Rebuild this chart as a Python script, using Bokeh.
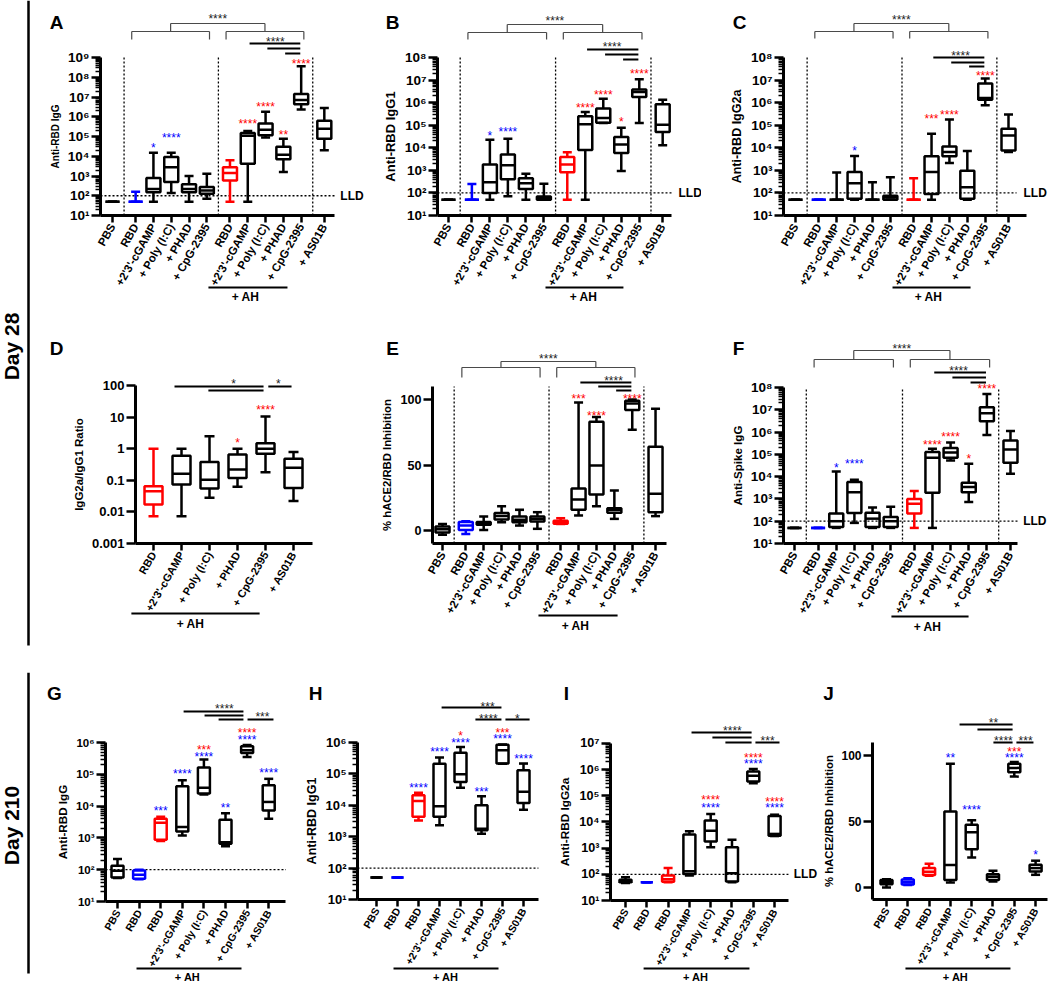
import math
from bokeh.plotting import figure
from bokeh.models import Range1d, FixedTicker, ColumnDataSource
from bokeh.layouts import row, column
from bokeh.core.properties import value
from bokeh.embed import file_html
from bokeh.resources import INLINE

FONT = "Liberation Sans"
CMAP = {"k": "#000000", "r": "#ff0000", "b": "#0000ff"}
SUP = str.maketrans("0123456789-", "⁰¹²³⁴⁵⁶⁷⁸⁹⁻")

# ---------------- categories ----------------
cats_d28 = ["PBS", "RBD", "+2'3'-cGAMP", "+ Poly (I:C)", "+ PHAD", "+ CpG-2395",
            "RBD", "+2'3'-cGAMP", "+ Poly (I:C)", "+ PHAD", "+ CpG-2395", "+ AS01B"]
colors_d28 = ["k", "b", "k", "k", "k", "k", "r", "k", "k", "k", "k", "k"]
cats_ratio = ["RBD", "+2'3'-cGAMP", "+ Poly (I:C)", "+ PHAD", "+ CpG-2395", "+ AS01B"]
colors_ratio = ["r", "k", "k", "k", "k", "k"]
cats_d210 = ["PBS", "RBD", "RBD", "+2'3'-cGAMP", "+ Poly (I:C)", "+ PHAD", "+ CpG-2395", "+ AS01B"]
colors_d210 = ["k", "b", "r", "k", "k", "k", "k", "k"]

# ---------------- data (min, Q1, median, Q3, max) ----------------
A_min = [50, 50, 50, 136, 50, 70, 50, 50, 90000, 1600, 2.3e6, 20000]
A_q1 = [50, 50, 150, 490, 150, 125, 600, 4200, 115000, 7000, 4.3e6, 78000]
A_med = [50, 50, 220, 2800, 220, 185, 1400, 110000, 220000, 12000, 7e6, 250000]
A_q3 = [50, 50, 800, 9100, 380, 280, 2800, 150000, 450000, 30000, 1.4e7, 620000]
A_max = [50, 160, 15000, 15000, 1000, 1300, 6200, 190000, 1.8e6, 78000, 3.6e8, 2.8e6]

B_min = [50, 50, 50, 72, 50, 50, 50, 50, 125000, 930, 126000, 13000]
B_q1 = [50, 50, 100, 400, 150, 50, 830, 8000, 130000, 5900, 1.8e6, 50000]
B_med = [50, 50, 300, 1700, 270, 58, 1800, 110000, 210000, 14000, 3e6, 105000]
B_q3 = [50, 50, 1800, 5000, 450, 70, 3900, 250000, 550000, 30000, 3.8e6, 850000]
B_max = [50, 250, 23000, 25000, 710, 256, 6400, 390000, 1.5e6, 78000, 1.1e7, 1.35e6]

C_min = [50, 50, 50, 50, 50, 50, 50, 50, 2100, 50, 760000, 6500]
C_q1 = [50, 50, 50, 55, 50, 50, 50, 90, 4200, 55, 1.35e6, 7600]
C_med = [50, 50, 50, 270, 50, 62, 50, 850, 6500, 180, 1.6e6, 35000]
C_q3 = [50, 50, 50, 850, 50, 75, 50, 4200, 11500, 950, 7e6, 70000]
C_max = [50, 50, 800, 4300, 300, 500, 450, 42000, 177000, 7200, 1.17e7, 300000]

D_min = [0.0073, 0.0073, 0.028, 0.062, 0.18, 0.022]
D_q1 = [0.017, 0.073, 0.055, 0.118, 0.69, 0.057]
D_med = [0.045, 0.16, 0.105, 0.22, 1.0, 0.25]
D_q3 = [0.065, 0.6, 0.38, 0.65, 1.5, 0.48]
D_max = [1.0, 1.0, 2.5, 1.0, 10.5, 0.78]

E_min = [-3.3, -2.6, 0.5, 6.4, 3.8, 1.3, 5.0, 11.5, 18.6, 8.9, 77, 11]
E_q1 = [-1.5, 0.5, 4.5, 8.4, 6.4, 6.9, 5.2, 15.8, 27.6, 13.5, 92, 14]
E_med = [1.0, 3.8, 5.5, 11, 8.2, 8.9, 6.2, 23.7, 49.7, 15.8, 97, 28]
E_q3 = [3.0, 6.5, 6.5, 13.3, 10.7, 10.7, 7.5, 32, 83, 17, 99, 64]
E_max = [5.0, 7.0, 10.7, 18.6, 15.8, 14, 9.4, 97.7, 86.7, 30.6, 100, 93]

F_min = [50, 50, 50, 84, 50, 50, 50, 50, 53000, 730, 740000, 13500]
F_q1 = [50, 50, 55, 235, 55, 55, 220, 1900, 70000, 2000, 3e6, 42000]
F_med = [50, 50, 100, 2000, 130, 100, 600, 70000, 120000, 3400, 7e6, 165000]
F_q3 = [50, 50, 220, 5700, 240, 155, 1000, 126000, 190000, 5300, 1.3e7, 420000]
F_max = [50, 50, 17000, 7200, 410, 440, 2250, 177000, 340000, 38000, 5e7, 1.1e6]

G_min = [55, 50, 800, 1180, 23000, 550, 350000, 4000]
G_q1 = [57, 52, 870, 1600, 25000, 650, 470000, 7300]
G_med = [93, 70, 3000, 2200, 38000, 730, 570000, 13500]
G_q3 = [133, 95, 4000, 42000, 165000, 3700, 760000, 45000]
G_max = [218, 100, 4600, 65000, 290000, 6000, 830000, 72000]

H_min = [50, 50, 3300, 2300, 36000, 1250, 210000, 7200]
H_q1 = [50, 50, 4300, 4300, 55000, 1600, 215000, 11800]
H_med = [50, 50, 13700, 9300, 97000, 1800, 570000, 27000]
H_q3 = [50, 50, 21000, 210000, 470000, 10000, 850000, 130000]
H_max = [50, 50, 25000, 330000, 720000, 19500, 870000, 213000]

I_min = [47, 50, 50, 90, 1080, 50, 300000, 2900]
I_q1 = [50, 50, 52, 104, 1800, 53, 350000, 3000]
I_med = [56, 50, 65, 130, 4600, 110, 580000, 3500]
I_q3 = [62, 50, 90, 3300, 11500, 1080, 850000, 17000]
I_max = [77, 50, 175, 4400, 20000, 2100, 1.05e6, 19000]

J_min = [0, 1.8, 8.9, 3.8, 22.8, 4.6, 84, 9.6]
J_q1 = [2.5, 2.2, 9.5, 5.6, 29, 5.6, 87.3, 12.2]
J_med = [4.3, 4, 12, 17, 41.8, 8.1, 90.6, 14.7]
J_q3 = [5.6, 6, 14.7, 57.5, 47.6, 10, 93.7, 17.2]
J_max = [6.3, 7, 18, 93.7, 51, 12.7, 95, 20.3]

# ---------------- significance stars above groups ----------------
A_star_group = [2, 3, 7, 8, 9, 10]
A_star_y = [3.9e4, 1.26e5, 5.75e5, 4.2e6, 1.78e5, 6.3e8]
A_star_text = ["*", "****", "****", "****", "**", "****"]
A_star_color = ["b", "b", "r", "r", "r", "r"]

B_star_group = [2, 3, 7, 8, 9, 10]
B_star_y = [4.5e4, 7.1e4, 7.6e5, 2.95e6, 1.82e5, 2.45e7]
B_star_text = ["*", "****", "****", "****", "*", "****"]
B_star_color = ["b", "b", "r", "r", "r", "r"]

C_star_group = [3, 7, 8, 10]
C_star_y = [1.0e4, 2.45e5, 3.9e5, 2.1e7]
C_star_text = ["*", "***", "****", "****"]
C_star_color = ["b", "r", "r", "r"]

D_star_group = [3, 4]
D_star_y = [1.92, 21]
D_star_text = ["*", "****"]
D_star_color = ["r", "r"]

E_star_group = [7, 8, 10]
E_star_y = [102.8, 90, 102.8]
E_star_text = ["***", "****", "****"]
E_star_color = ["r", "r", "r"]

F_star_group = [2, 3, 7, 8, 9, 10]
F_star_y = [3.2e4, 5.0e4, 3.55e5, 8.3e5, 8.3e4, 1.12e8]
F_star_text = ["*", "****", "****", "****", "*", "****"]
F_star_color = ["b", "b", "r", "r", "r", "r"]

G_star_group = [2, 3, 4, 4, 5, 6, 6, 7]
G_star_y = [8700, 1.29e5, 7.2e5, 4.47e5, 10500, 2.45e6, 1.5e6, 1.41e5]
G_star_text = ["***", "****", "***", "****", "**", "****", "****", "****"]
G_star_color = ["b", "b", "r", "b", "b", "r", "b", "b"]

H_star_group = [2, 3, 4, 4, 5, 6, 6, 7]
H_star_y = [4.4e4, 6.0e5, 1.95e6, 1.17e6, 3.2e4, 2.45e6, 1.58e6, 3.63e5]
H_star_text = ["****", "****", "*", "****", "***", "***", "****", "****"]
H_star_color = ["b", "b", "r", "b", "b", "r", "b", "b"]

I_star_group = [4, 4, 6, 6, 7, 7]
I_star_y = [8.7e4, 4.6e4, 3.7e6, 2.05e6, 7.6e4, 4.6e4]
I_star_text = ["****", "****", "****", "****", "****", "****"]
I_star_color = ["r", "b", "r", "b", "r", "b"]

J_star_group = [3, 4, 6, 6, 7]
J_star_y = [100, 61.3, 105, 100, 26.6]
J_star_text = ["**", "****", "***", "****", "*"]
J_star_color = ["b", "b", "r", "b", "b"]


# ---------------- helpers ----------------
def cat_positions(groups, gap):
    out, x = [], 0.0
    for n in groups:
        for j in range(n):
            if out:
                x += gap if j == 0 else 1.0
            out.append(round(x, 4))
    return out


def key(v):
    return int(v) if float(v).is_integer() else float(v)


pos28 = cat_positions([1, 5, 5, 1], 1.3)
posR = cat_positions([6], 1.0)
pos210 = cat_positions([8], 1.0)
seps28 = [round((pos28[i] + pos28[i + 1]) / 2, 4) for i in (0, 5, 10)]

ANG = math.radians(60)
STAR_DY = 3


def log_ticks(e0, e1):
    major = [10 ** e if e >= 0 else 10.0 ** e for e in range(e0, e1 + 1)]
    minor = [k * 10.0 ** e for e in range(e0, e1) for k in range(2, 10)]
    labels = {key(10 ** e if e >= 0 else 10.0 ** e): "10" + str(e).translate(SUP)
              for e in range(e0, e1 + 1)}
    return major, minor, labels


def txt(p, x, y, t, size, color="black", bold=False, align="center", angle=0.0):
    p.text(x=x, y=y, text=t, text_color=color, text_align=align, text_baseline="middle",
           text_font=value(FONT), text_font_size=size,
           text_font_style="bold" if bold else "normal", angle=angle)


def build(sp):
    # figure = whole panel; axes sit at fixed locations inside it
    pad = sp.get("pad", 0)
    W, BL = sp["w"], sp["bl"]
    H, FH = sp["h"] + pad, sp["fh"] + pad
    ppu, x0 = sp["ppu"], sp["x0"]
    xl = x0 - BL / ppu
    xr = x0 + (W - BL) / ppu
    if sp["log"]:
        eb, ppd = sp["ebot"], sp["ppd"]
        et = eb + FH / ppd
        el = eb - (H - FH) / ppd
        yr = Range1d(10.0 ** el, 10.0 ** et)

        def ytop(off):
            return 10.0 ** (et - (off + pad) / ppd)

        def ybelow(off):
            return 10.0 ** (eb - off / ppd)

        def down(y, px):
            return y / 10.0 ** (px / ppd)
        ylo = 10 ** eb if eb >= 0 else 10.0 ** eb
    else:
        yb, ppy = sp["ybot"], sp["ppy"]
        yt = yb + FH / ppy
        yl = yb - (H - FH) / ppy
        yr = Range1d(yl, yt)

        def ytop(off):
            return yt - (off + pad) / ppy

        def ybelow(off):
            return yb - off / ppy

        def down(y, px):
            return y - px / ppy
        ylo = yb

    p = figure(width=W, height=H, x_range=Range1d(xl, xr), y_range=yr,
               y_axis_type="log" if sp["log"] else "linear",
               toolbar_location=None, output_backend="svg", min_border=0)
    p.outline_line_color = None
    p.grid.visible = False
    p.background_fill_color = "white"

    pos = sp["pos"]
    xa, ya = p.xaxis[0], p.yaxis[0]
    xa.fixed_location = ylo
    ya.fixed_location = x0
    xa.ticker = FixedTicker(ticks=[key(v) for v in pos])
    xa.major_label_overrides = {key(v): c for v, c in zip(pos, sp["cats"])}
    xa.major_label_orientation = ANG
    xa.bounds = (x0, sp["xend"])
    ya.ticker = FixedTicker(ticks=sp["yticks"], minor_ticks=sp["yminor"])
    if sp.get("ylabels"):
        ya.major_label_overrides = sp["ylabels"]
    ya.bounds = sp["ybounds"]
    ya.axis_label = sp["ylabel"]
    for ax in (xa, ya):
        ax.axis_line_width = 3
        ax.axis_line_color = "black"
        ax.major_tick_line_width = 2.5
        ax.major_tick_line_color = "black"
        ax.major_tick_in = 0
        ax.minor_tick_in = 0
        ax.major_label_text_font = FONT
        ax.major_label_text_font_style = "bold"
        ax.major_label_text_color = "black"
        ax.axis_label_text_font = FONT
        ax.axis_label_text_font_style = "bold"
        ax.axis_label_text_color = "black"
    xa.major_tick_out = 7
    xa.minor_tick_out = 0
    xa.major_label_standoff = 2
    xa.major_label_text_font_size = sp["xts"]
    ya.major_tick_out = 9
    ya.minor_tick_out = 5
    ya.minor_tick_line_width = 1.5
    ya.minor_tick_line_color = "black"
    ya.major_label_standoff = 2
    ya.axis_label_standoff = sp.get("als", 4)
    ya.major_label_text_font_size = sp["yts"]
    ya.axis_label_text_font_size = sp["yls"]

    # separators and detection limit
    if sp.get("seps"):
        s = sp["seps"]
        p.segment(x0=s, y0=[ylo] * len(s), x1=s, y1=[sp["ybounds"][1]] * len(s),
                  line_dash="2 2", line_width=1.3, line_color="black")
    if sp.get("lld_line") is not None:
        p.segment(x0=[x0], y0=[100], x1=[sp["lld_line"]], y1=[100],
                  line_dash="2 2", line_width=1.3, line_color="black")
    if sp.get("lld_text") is not None:
        txt(p, [sp["lld_text"]], [100], ["LLD"], "12px", bold=True, align="left")

    # boxes
    mn, q1, md, q3, mx = sp["stats"]
    bw = sp["box_px"] / ppu / 2
    cw = sp["cap_px"] / ppu / 2
    src = ColumnDataSource(dict(
        x=pos, l=[v - bw for v in pos], r=[v + bw for v in pos],
        cl=[v - cw for v in pos], cr=[v + cw for v in pos],
        mn=mn, q1=q1, md=md, q3=q3, mx=mx, c=[CMAP[c] for c in sp["cols"]]))
    lw = 2.5
    p.segment(x0="x", y0="q3", x1="x", y1="mx", source=src, line_color="c", line_width=lw)
    p.segment(x0="x", y0="mn", x1="x", y1="q1", source=src, line_color="c", line_width=lw)
    p.segment(x0="cl", y0="mx", x1="cr", y1="mx", source=src, line_color="c", line_width=lw)
    p.segment(x0="cl", y0="mn", x1="cr", y1="mn", source=src, line_color="c", line_width=lw)
    p.quad(left="l", right="r", bottom="q1", top="q3", source=src, fill_color=None,
           line_color="c", line_width=lw)
    p.segment(x0="l", y0="md", x1="r", y1="md", source=src, line_color="c", line_width=lw)

    # stars above groups
    sg, sy, st, sc = sp["stars"]
    txt(p, [pos[g] for g in sg], [down(v, STAR_DY) for v in sy], st, "12px",
        color=[CMAP[c] for c in sc])

    # grouped bracket (no-AH vs AH) and comparison lines
    tx, ty, tt = [], [], []
    if sp.get("grp"):
        s_off, up, lt, lb = sp["grp"]
        l0, l1 = pos[1] - 0.22, pos[5] + 0.15
        r0, r1 = pos[6] - 0.22, pos[10] + 0.15
        lm, rm = (l0 + l1) / 2, (r0 + r1) / 2
        segs = [(l0, lb, l0, lt), (l0, lt, l1, lt), (l1, lt, l1, lb),
                (r0, lb, r0, lt), (r0, lt, r1, lt), (r1, lt, r1, lb),
                (lm, lt, lm, up), (lm, up, rm, up), (rm, up, rm, lt)]
        p.segment(x0=[s[0] for s in segs], y0=[ytop(s[1]) for s in segs],
                  x1=[s[2] for s in segs], y1=[ytop(s[3]) for s in segs],
                  line_color="#4a4a4a", line_width=1.2)
        tx.append((lm + rm) / 2); ty.append(ytop(s_off + STAR_DY)); tt.append("****")
    if sp.get("cmp_lines"):
        cl = sp["cmp_lines"]
        p.segment(x0=[c[0] for c in cl], y0=[ytop(c[2]) for c in cl],
                  x1=[c[1] for c in cl], y1=[ytop(c[2]) for c in cl],
                  line_color="black", line_width=2)
    for (x, off, t) in sp.get("cmp_text", []):
        tx.append(x); ty.append(ytop(off + STAR_DY)); tt.append(t)
    if tx:
        txt(p, tx, ty, tt, "12px", color="#222222")

    # panel letter
    dx, dy = sp["letter_pos"]
    txt(p, [x0 + dx / ppu], [ytop(dy)], [sp["letter"]], "19px", bold=True)

    # "+ AH" bar under the adjuvanted groups
    (ax0, ax1, aoff), (atx, atoff) = sp["ah"]
    p.segment(x0=[ax0], y0=[ybelow(aoff)], x1=[ax1], y1=[ybelow(aoff)],
              line_color="black", line_width=1.8)
    txt(p, [atx], [ybelow(atoff)], ["+ AH"], sp.get("ahs", "12px"), bold=True)
    return p


def strip(h, label, line_top, line_bot, text_y):
    p = figure(width=35, height=h, x_range=Range1d(0, 35), y_range=Range1d(0, h),
               x_axis_type=None, y_axis_type=None, toolbar_location=None,
               output_backend="svg", min_border=0)
    p.outline_line_color = None
    p.grid.visible = False
    p.segment(x0=[28], y0=[h - line_top], x1=[28], y1=[h - line_bot],
              line_color="black", line_width=2.5)
    txt(p, [11], [h - text_y], [label], "21px", bold=True, angle=math.pi / 2)
    return p


lt28 = log_ticks(1, 9)
lt8 = log_ticks(1, 8)
lt6 = log_ticks(1, 6)
lt7 = log_ticks(1, 7)


def cmp28(o1, o2, o3):
    return [(pos28[7] + 0.1, pos28[10] - 0.05, o1), (pos28[8] + 0.1, pos28[10] - 0.05, o2),
            (pos28[9] + 0.1, pos28[10] - 0.05, o3)]


specA = dict(letter="A", ylabel="Anti-RBD IgG", yls="10px", yts="13.5px", xts="11.5px",
             cats=cats_d28, cols=colors_d28, pos=pos28,
             stats=(A_min, A_q1, A_med, A_q3, A_max),
             stars=(A_star_group, A_star_y, A_star_text, A_star_color),
             w=330, h=327, pad=8, bl=65, fh=207, ppu=17.8, x0=-0.674, xend=12.5,
             log=True, ebot=1, ppd=19.75, yticks=lt28[0], yminor=lt28[1], ylabels=lt28[2],
             ybounds=(10, 10 ** 9), box_px=14, cap_px=9, seps=seps28,
             lld_line=12.5, lld_text=12.8, grp=(7, 15, 23, 31), cmp_lines=cmp28(35, 40, 45),
             cmp_text=[(9.15, 30, "****")], ah=((5.39, 9.83, 72), (7.47, 81)),
             letter_pos=(-44, 14))

specB = dict(letter="B", ylabel="Anti-RBD IgG1", yls="13px", yts="13.5px", xts="11.5px",
             cats=cats_d28, cols=colors_d28, pos=pos28,
             stats=(B_min, B_q1, B_med, B_q3, B_max),
             stars=(B_star_group, B_star_y, B_star_text, B_star_color),
             w=336, h=327, pad=8, bl=72, fh=207, ppu=18.0, x0=-0.61, xend=12.4,
             log=True, ebot=1, ppd=22.57, yticks=lt8[0], yminor=lt8[1], ylabels=lt8[2],
             ybounds=(10, 10 ** 8), box_px=14, cap_px=9, seps=seps28,
             lld_line=12.4, lld_text=12.78, grp=(9, 16, 24, 31), cmp_lines=cmp28(41, 46, 51),
             cmp_text=[(9.09, 35, "****")], ah=((5.39, 9.72, 72), (7.5, 81)),
             letter_pos=(-45, 14))

specC = dict(letter="C", ylabel="Anti-RBD IgG2a", yls="12.5px", yts="13.5px", xts="11.5px",
             cats=cats_d28, cols=colors_d28, pos=pos28,
             stats=(C_min, C_q1, C_med, C_q3, C_max),
             stars=(C_star_group, C_star_y, C_star_text, C_star_color),
             w=349, h=327, pad=8, bl=82, fh=207, ppu=17.9, x0=-0.67, xend=12.9,
             log=True, ebot=1, ppd=22.57, yticks=lt8[0], yminor=lt8[1], ylabels=lt8[2],
             ybounds=(10, 10 ** 8), box_px=14, cap_px=9, seps=seps28,
             lld_line=12.35, lld_text=12.74, grp=(8, 15, 23, 30), cmp_lines=cmp28(49, 54, 58),
             cmp_text=[(9.22, 44, "****")], ah=((5.42, 9.78, 72), (7.43, 81)),
             letter_pos=(-44, 14))

specD = dict(letter="D", ylabel="IgG2a/IgG1 Ratio", yls="11.5px", yts="13px", xts="11px",
             cats=cats_ratio, cols=colors_ratio, pos=posR,
             stats=(D_min, D_q1, D_med, D_q3, D_max),
             stars=(D_star_group, D_star_y, D_star_text, D_star_color),
             w=330, h=337, bl=100, fh=208, ppu=28.0, x0=-0.643, xend=5.68,
             log=True, ebot=-3, ppd=31.6, yticks=[0.001, 0.01, 0.1, 1, 10, 100], yminor=[],
             ylabels={0.001: "0.001", 0.01: "0.01", 0.1: "0.1", 1: "1", 10: "10", 100: "100"},
             ybounds=(0.001, 100), box_px=18, cap_px=10,
             cmp_lines=[(0.75, 3.93, 51), (1.96, 3.93, 55), (4.1, 4.93, 51)],
             cmp_text=[(2.86, 45, "*"), (4.46, 45, "*")],
             ah=((-0.79, 3.79, 70), (1.32, 80)), letter_pos=(-79, 13))

specE = dict(letter="E", ylabel="% hACE2/RBD Inhibition", yls="11.3px", yts="12.6px", xts="11.5px",
             cats=cats_d28, cols=colors_d28, pos=pos28,
             stats=(E_min, E_q1, E_med, E_q3, E_max),
             stars=(E_star_group, E_star_y, E_star_text, E_star_color),
             w=336, h=337, bl=67, fh=208, ppu=17.9, x0=-0.56, xend=12.5,
             log=False, ybot=-9.9, ppy=1.31, yticks=[0, 50, 100], yminor=[],
             ybounds=(-9.9, 110), box_px=14, cap_px=9, seps=seps28,
             grp=(20, 26, 32, 42), cmp_lines=cmp28(47, 51, 55),
             cmp_text=[(9.55, 42, "****")], ah=((5.36, 9.78, 72), (7.43, 82)),
             letter_pos=(-40, 13))

specF = dict(letter="F", ylabel="Anti-Spike IgG", yls="11.6px", yts="13.5px", xts="11.5px",
             cats=cats_d28, cols=colors_d28, pos=pos28,
             stats=(F_min, F_q1, F_med, F_q3, F_max),
             stars=(F_star_group, F_star_y, F_star_text, F_star_color),
             w=349, h=337, bl=82, fh=208, ppu=18.15, x0=-0.606, xend=12.3,
             log=True, ebot=1, ppd=22.3, yticks=lt8[0], yminor=lt8[1], ylabels=lt8[2],
             ybounds=(10, 10 ** 8), box_px=14, cap_px=9, seps=seps28,
             lld_line=12.3, lld_text=12.6, grp=(10, 15, 24, 32), cmp_lines=cmp28(37, 42, 47),
             cmp_text=[(9.04, 32, "****")], ah=((5.34, 9.59, 73), (7.33, 83)),
             letter_pos=(-45, 13))

specG = dict(letter="G", ylabel="Anti-RBD IgG", yls="11.7px", yts="11.5px", xts="10.5px",
             cats=cats_d210, cols=colors_d210, pos=pos210,
             stats=(G_min, G_q1, G_med, G_q3, G_max),
             stars=(G_star_group, G_star_y, G_star_text, G_star_color),
             w=255, h=306, pad=6, bl=70, fh=223, ppu=21.6, x0=-0.556, xend=7.8,
             log=True, ebot=1, ppd=31.8, yticks=lt6[0], yminor=lt6[1], ylabels=lt6[2],
             ybounds=(10, 10 ** 6), box_px=12, cap_px=9, lld_line=7.8,
             cmp_lines=[(3.06, 5.83, 33), (4.03, 5.83, 37), (4.68, 5.83, 41), (6.02, 7.22, 41)],
             cmp_text=[(4.95, 27, "****"), (6.71, 35, "***")],
             ah=((0.88, 5.74, 67), (3.24, 75)), ahs="11px", letter_pos=(-51, 15))

specH = dict(letter="H", ylabel="Anti-RBD IgG1", yls="12.5px", yts="13px", xts="10.5px",
             cats=cats_d210, cols=colors_d210, pos=pos210,
             stats=(H_min, H_q1, H_med, H_q3, H_max),
             stars=(H_star_group, H_star_y, H_star_text, H_star_color),
             w=255, h=306, pad=6, bl=67, fh=221, ppu=21.0, x0=-0.905, xend=7.71,
             log=True, ebot=1, ppd=31.4, yticks=lt6[0], yminor=lt6[1], ylabels=lt6[2],
             ybounds=(10, 10 ** 6), box_px=12, cap_px=9, lld_line=7.71,
             cmp_lines=[(3.1, 5.95, 29), (4.71, 5.95, 41), (6.14, 7.29, 41)],
             cmp_text=[(5.29, 25, "***"), (5.33, 37, "****"), (6.71, 37, "*")],
             ah=((0.81, 5.81, 69), (3.29, 77)), ahs="11px", letter_pos=(-42, 15))

specI = dict(letter="I", ylabel="Anti-RBD IgG2a", yls="11.8px", yts="12.6px", xts="10.5px",
             cats=cats_d210, cols=colors_d210, pos=pos210,
             stats=(I_min, I_q1, I_med, I_q3, I_max),
             stars=(I_star_group, I_star_y, I_star_text, I_star_color),
             w=275, h=306, pad=6, bl=65, fh=222, ppu=21.3, x0=-0.704, xend=7.65,
             log=True, ebot=1, ppd=26.17, yticks=lt7[0], yminor=lt7[1], ylabels=lt7[2],
             ybounds=(10, 10 ** 7), box_px=12, cap_px=9, lld_line=7.65, lld_text=7.9,
             cmp_lines=[(3.1, 5.92, 54), (4.08, 5.92, 59), (4.69, 5.92, 64), (6.1, 7.23, 64)],
             cmp_text=[(5.02, 49, "****"), (6.67, 59, "***")],
             ah=((0.85, 5.82, 68), (3.29, 76)), ahs="11px", letter_pos=(-44, 15))

specJ = dict(letter="J", ylabel="% hACE2/RBD Inhibition", yls="11.3px", yts="12px", xts="10.5px",
             cats=cats_d210, cols=colors_d210, pos=pos210,
             stats=(J_min, J_q1, J_med, J_q3, J_max),
             stars=(J_star_group, J_star_y, J_star_text, J_star_color),
             w=230, h=306, pad=6, bl=52, fh=221, ppu=21.3, x0=-0.657, xend=7.55,
             log=False, ybot=-9.1, ppy=1.32, yticks=[0, 50, 100], yminor=[],
             ybounds=(-9.1, 110), box_px=12, cap_px=9, als=3,
             cmp_lines=[(3.43, 5.92, 46), (4.27, 5.92, 51), (5.02, 5.92, 64), (6.1, 6.9, 64)],
             cmp_text=[(5.02, 41, "**"), (5.49, 59, "****"), (6.53, 59, "***")],
             ah=((0.89, 5.82, 69), (3.24, 77)), ahs="11px", letter_pos=(-44, 15))

pA, pB, pC = build(specA), build(specB), build(specC)
pD, pE, pF = build(specD), build(specE), build(specF)
pG, pH, pI, pJ = build(specG), build(specH), build(specI), build(specJ)

s1 = strip(672, "Day 28", 0, 645, 346)
s2 = strip(312, "Day 210", 0, 301, 153)

layout = column(row(s1, column(row(pA, pB, pC), row(pD, pE, pF))),
                row(s2, pG, pH, pI, pJ))

with open("out.html", "w") as f:
    f.write(file_html(layout, INLINE))
